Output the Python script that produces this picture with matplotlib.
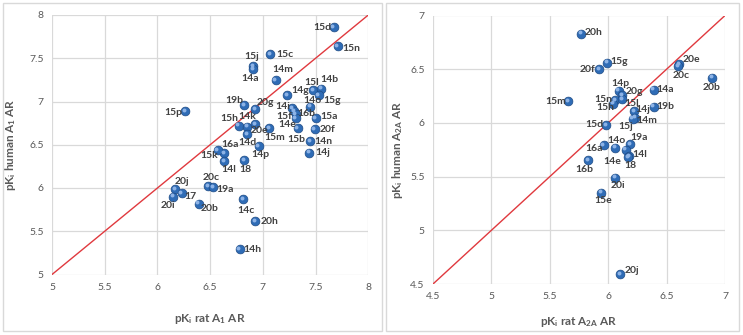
import numpy as np
import matplotlib
matplotlib.use("Agg")
import matplotlib.pyplot as plt
import matplotlib.transforms as mtransforms
from matplotlib.patches import Rectangle
from matplotlib.ticker import FuncFormatter

plt.rcParams['font.family'] = ['Lato', 'DejaVu Sans']
plt.rcParams['mathtext.default'] = 'regular'

# ---------- data: A1 AR (rat vs human) ----------
a1_names = ['15d', '15n', '15c', '15j', '14a', '14m', '14g', '15l', '14b', '15g',
            '14o', '19b', '20g', '15p', '14i', '16b', '15f', '14e', '15a', '20f',
            '15b', '14n', '14j', '15m', '15h', '14k', '20e', '14d', '14p', '16a',
            '15k', '14l', '18', '20j', '20i', '17', '20b', '20c', '19a', '14c',
            '20h', '14h']
a1_rat = [7.67, 7.71, 7.07, 6.91, 6.91, 7.12, 7.23, 7.48, 7.55, 7.53,
          7.45, 6.82, 6.93, 6.26, 7.28, 7.30, 7.31, 7.31, 7.50, 7.49,
          7.33, 7.45, 7.44, 7.06, 6.77, 6.85, 6.93, 6.85, 6.96, 6.63,
          6.57, 6.63, 6.82, 6.17, 6.15, 6.23, 6.39, 6.48, 6.53, 6.81,
          6.93, 6.78]
a1_human = [7.86, 7.64, 7.55, 7.41, 7.37, 7.25, 7.07, 7.13, 7.15, 7.07,
            6.94, 6.96, 6.91, 6.89, 6.92, 6.89, 6.85, 6.81, 6.81, 6.68,
            6.69, 6.54, 6.41, 6.69, 6.72, 6.71, 6.74, 6.62, 6.48, 6.40,
            6.44, 6.31, 6.32, 5.99, 5.90, 5.94, 5.82, 6.02, 6.01, 5.87,
            5.62, 5.29]

# ---------- data: A2A AR (rat vs human) ----------
a2a_names = ['20h', '15g', '20f', '20e', '20c', '20b', '14a', '14p', '20g', '15n',
             '15l', '15h', '15m', '19b', '14j', '14m', '15j', '15d', '19a', '14o',
             '16a', '14e', '14l', '18', '16b', '20i', '15e', '20j']
a2a_rat = [5.77, 5.99, 5.92, 6.61, 6.60, 6.89, 6.39, 6.09, 6.12, 6.06,
           6.12, 6.04, 5.66, 6.39, 6.22, 6.23, 6.21, 5.98, 6.19, 6.06,
           5.96, 6.15, 6.18, 6.17, 5.83, 6.06, 5.94, 6.10]
a2a_human = [6.83, 6.56, 6.50, 6.55, 6.53, 6.42, 6.31, 6.30, 6.26, 6.21,
             6.22, 6.18, 6.20, 6.15, 6.11, 6.05, 6.04, 5.98, 5.80, 5.77,
             5.79, 5.75, 5.69, 5.68, 5.65, 5.49, 5.35, 4.59]

# ---------- label offsets (pixels, dx right, dy down) ----------
a1_offsets = {
    '15d': (-11, 0), '15n': (14, 2), '15c': (15, 1), '15j': (-2, -10), '14a': (-3, 9),
    '14m': (7, -10), '14g': (13, -5), '15l': (-2, -8), '14b': (9, -9), '15g': (13, 5),
    '14o': (2, -6), '19b': (-10, -4), '20g': (10, -7), '15p': (-12, 1), '14i': (-10, -2),
    '16b': (12, 2), '15f': (-11, 2), '14e': (-8, 7), '15a': (13, -1), '20f': (13, 0),
    '15b': (-1, 11), '14n': (13, 0), '14j': (13, 0), '15m': (5, 9), '15h': (-9, -7),
    '14k': (0, -10), '20e': (4, 7), '14d': (0, 8), '14p': (2, 8), '16a': (6, -9),
    '15k': (-8, 6), '14l': (5, 8), '18': (1, 9), '20j': (7, -7), '20i': (-5, 9),
    '17': (9, 3), '20b': (11, 5), '20c': (3, -9), '19a': (12, 2), '14c': (3, 11),
    '20h': (14, 1), '14h': (13, 0),
}
a2a_offsets = {
    '20h': (12, -1), '15g': (12, -1), '20f': (-11, 0), '20e': (12, -4), '20c': (3, 10),
    '20b': (-1, 10), '14a': (11, 0), '14p': (2, -7), '20g': (12, -3), '15n': (-12, -1),
    '15l': (9, 4), '15h': (-8, 4), '15m': (-13, 0), '19b': (12, 0), '14j': (9, -2),
    '14m': (12, 3), '15j': (-7, 8), '15d': (-11, -1), '19a': (9, -7), '14o': (1, -7),
    '16a': (-10, 3), '14e': (-13, 12), '14l': (11, -2), '18': (2, 8), '16b': (-4, 9),
    '20i': (3, 8), '15e': (2, 8), '20j': (12, -4),
}

W, H = 743, 335
GRID = '#D9D9D9'
TICK = '#595959'
LBL = '#404040'


def px_axes(fig, x0, y0, x1, y1):
    return fig.add_axes([x0 / W, (H - y1) / H, (x1 - x0) / W, (y1 - y0) / H])


def panel(fig, x0, y0, x1, y1):
    fig.patches.append(Rectangle((x0 / W, (H - y1) / H), (x1 - x0) / W, (y1 - y0) / H,
                                 transform=fig.transFigure, fill=False,
                                 edgecolor=GRID, lw=1.0))


def draw(ax, names, rat, human, offsets, lims, xlabel, ylabel):
    lo, hi = lims
    ax.set_xlim(lo, hi)
    ax.set_ylim(lo, hi)
    ticks = np.arange(lo, hi + 0.01, 0.5)
    ax.set_xticks(ticks)
    ax.set_yticks(ticks)
    fmt = FuncFormatter(lambda v, p: f"{v:g}")
    ax.xaxis.set_major_formatter(fmt)
    ax.yaxis.set_major_formatter(fmt)
    ax.tick_params(length=0, labelsize=7.5, colors=TICK, pad=6)
    ax.grid(True, color=GRID, lw=0.9)
    ax.set_axisbelow(True)
    for s in ax.spines.values():
        s.set_visible(False)

    ax.plot([lo, hi], [lo, hi], color='#E0393E', lw=1.0, zorder=2)

    ax.scatter(rat, human, s=40, color='#2F6CB6', edgecolor='#1D4A85', lw=0.5, zorder=3)
    shift = mtransforms.ScaledTranslation(-1.3 / 100, 1.3 / 100, ax.figure.dpi_scale_trans)
    ax.scatter(rat, human, s=8, color='#8DB3E6', lw=0, zorder=4,
               transform=ax.transData + shift)

    for n, x, y in zip(names, rat, human):
        dx, dy = offsets.get(n, (12, 0))
        ax.annotate(n, (x, y), xytext=(dx, -dy), textcoords='offset pixels',
                    ha='center', va='center', fontsize=7.5, fontweight='bold',
                    color=LBL, zorder=5)

    ax.set_xlabel(xlabel, fontsize=8.5, fontweight='bold', color=TICK)
    ax.set_ylabel(ylabel, fontsize=8.5, fontweight='bold', color=TICK)


fig = plt.figure(figsize=(W / 100, H / 100), dpi=100)
panel(fig, 3, 3, 382, 331)
panel(fig, 386, 3, 739, 331)

ax1 = px_axes(fig, 52, 15, 368.3, 274.5)
draw(ax1, a1_names, a1_rat, a1_human, a1_offsets, (5, 8),
     r'pK$_{i}$ rat A$_{1}$ AR', r'pK$_{i}$ human A$_{1}$ AR')
ax1.xaxis.set_label_coords(0.5, -0.143)
ax1.yaxis.set_label_coords(-0.108, 0.5)

ax2 = px_axes(fig, 433, 15.5, 725, 284)
draw(ax2, a2a_names, a2a_rat, a2a_human, a2a_offsets, (4.5, 7),
     r'pK$_{i}$ rat A$_{2A}$ AR', r'pK$_{i}$ human A$_{2A}$ AR')
ax2.xaxis.set_label_coords(0.5, -0.115)
ax2.yaxis.set_label_coords(-0.096, 0.5)

fig.savefig('out.png', dpi=100)
